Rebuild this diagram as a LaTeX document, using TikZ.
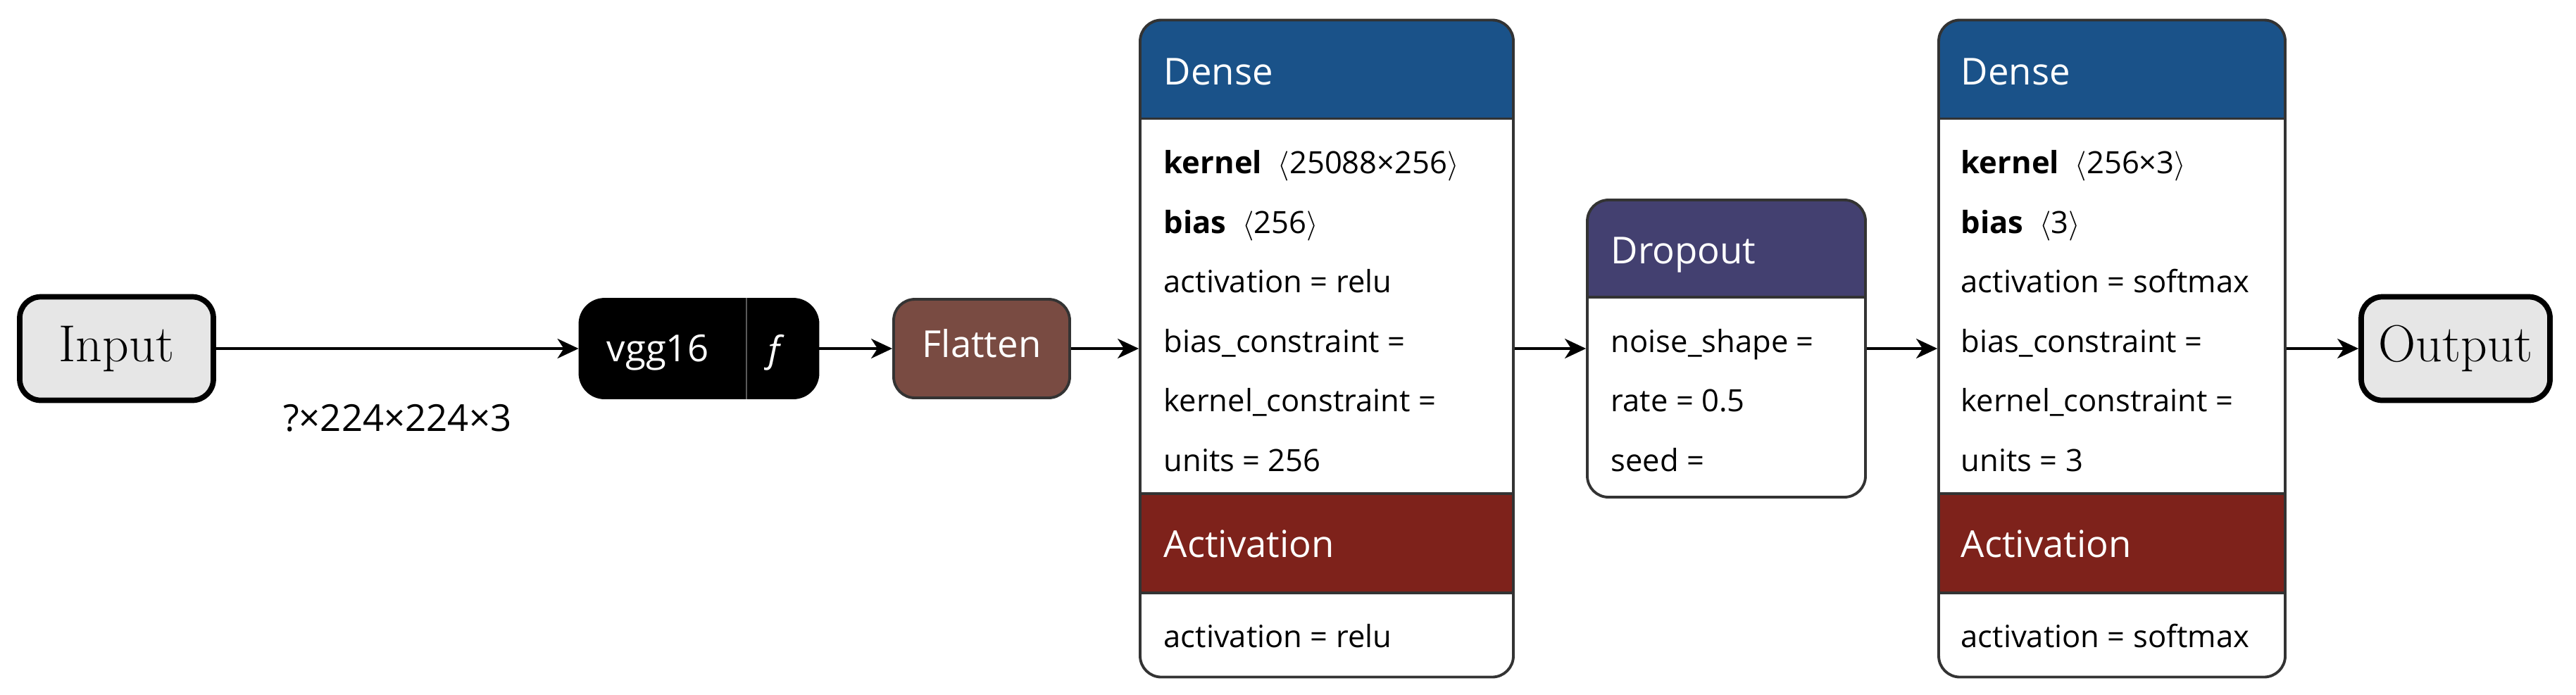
\documentclass[tikz,border=0pt]{standalone}
\usepackage{fontspec}
\usepackage{tikz}
\usetikzlibrary{arrows.meta}
\newfontfamily\netron{Open Sans}
\definecolor{densehead}{HTML}{1A5289}
\definecolor{acthead}{HTML}{7E221B}
\definecolor{drophead}{HTML}{434070}
\definecolor{flattenfill}{HTML}{794B42}
\definecolor{iofill}{HTML}{E6E6E6}
\definecolor{boxline}{HTML}{333333}

\begin{document}
\begin{tikzpicture}[
    io/.style={draw=black, line width=2.2pt, fill=iofill, rounded corners=0.3cm,
      minimum height=1.47cm, font=\fontsize{21}{24}\selectfont},
    layer/.style={draw=boxline, line width=1.1pt, fill=white, rounded corners=0.3cm},
    sepline/.style={draw=boxline, line width=1.1pt, sharp corners},
    denseblock/.style={layer, minimum height=9.33cm, path picture={
        \fill[densehead, sharp corners] (path picture bounding box.north west) rectangle ([yshift=-1.40cm]path picture bounding box.north east);
        \fill[acthead, sharp corners] ([yshift=-6.725cm]path picture bounding box.north west) rectangle ([yshift=-8.135cm]path picture bounding box.north east);
        \foreach \d in {1.40,6.725,8.135}
          \draw[sepline] ([yshift=-\d cm]path picture bounding box.north west) -- ([yshift=-\d cm]path picture bounding box.north east);
      }},
    dropblock/.style={layer, minimum height=4.22cm, path picture={
        \fill[drophead, sharp corners] (path picture bounding box.north west) rectangle ([yshift=-1.38cm]path picture bounding box.north east);
        \draw[sepline] ([yshift=-1.38cm]path picture bounding box.north west) -- ([yshift=-1.38cm]path picture bounding box.north east);
      }},
    title/.style={text=white, anchor=west, inner sep=0pt, text height=0.72em, text depth=0.22em,
      font=\netron\fontsize{15}{18}\selectfont},
    param/.style={anchor=west, inner sep=0pt, text height=0.72em, text depth=0.22em,
      font=\netron\fontsize{12.4}{14}\selectfont},
    edgelabel/.style={inner sep=0pt, font=\netron\fontsize{15}{18}\selectfont, below=0.78cm},
    link/.style={line width=1pt, -{Stealth[length=0.30cm, width=0.28cm, inset=0.09cm]}}
  ]
  \useasboundingbox (0,0) rectangle (36.58,-9.86);

  % input, backbone, flatten
  \node[io, minimum width=2.75cm] (input) at (1.655,-4.95) {Input};
  \node[layer, draw=black, fill=black, rounded corners=0.35cm, minimum width=3.38cm, minimum height=1.40cm] (vgg) at (9.925,-4.95) {};
  \coordinate (vggcut) at (10.60,-4.95);
  \draw[gray!70!black, line width=0.6pt] (vgg.north -| vggcut) -- (vgg.south -| vggcut);
  \node[title, anchor=center] (vggname) at (9.34,-5.05) {vgg16};
  \node[title, anchor=center] (vggfn) at (11.0,-5.05) {\itshape ƒ};
  \node[layer, fill=flattenfill, minimum width=2.50cm, minimum height=1.40cm, title, text depth=0em, anchor=center] (flatten) at (13.94,-4.95) {Flatten};

  % first dense
  \node[denseblock, minimum width=5.30cm] (dense1) at (18.84,-4.95) {};
  \path
  (16.52,-1.12) node[title] (dense1head) {Dense}
  (16.52,-2.38) node[param] (dense1kernel) {\textbf{kernel}~~$\langle$25088×256$\rangle$}
  (16.52,-3.23) node[param] (dense1bias) {\textbf{bias}~~$\langle$256$\rangle$}
  (16.52,-4.07) node[param] (dense1act) {activation = relu}
  (16.52,-4.92) node[param] (dense1bc) {bias\_constraint =}
  (16.52,-5.76) node[param] (dense1kc) {kernel\_constraint =}
  (16.52,-6.61) node[param] (dense1units) {units = 256}
  (16.52,-7.83) node[title] (act1head) {Activation}
  (16.52,-9.11) node[param] (act1act) {activation = relu}
  ;

  % dropout
  \node[dropblock, minimum width=3.95cm] (dropout) at (24.515,-4.95) {};
  \path
  (22.87,-3.66) node[title] (drophead) {Dropout}
  (22.87,-4.92) node[param] (dropnoise) {noise\_shape =}
  (22.87,-5.76) node[param] (droprate) {rate = 0.5}
  (22.87,-6.61) node[param] (dropseed) {seed =}
  ;

  % second dense
  \node[denseblock, minimum width=4.92cm] (dense2) at (29.99,-4.95) {};
  \path
  (27.84,-1.12) node[title] (dense2head) {Dense}
  (27.84,-2.38) node[param] (dense2kernel) {\textbf{kernel}~~$\langle$256×3$\rangle$}
  (27.84,-3.23) node[param] (dense2bias) {\textbf{bias}~~$\langle$3$\rangle$}
  (27.84,-4.07) node[param] (dense2act) {activation = softmax}
  (27.84,-4.92) node[param] (dense2bc) {bias\_constraint =}
  (27.84,-5.76) node[param] (dense2kc) {kernel\_constraint =}
  (27.84,-6.61) node[param] (dense2units) {units = 3}
  (27.84,-7.83) node[title] (act2head) {Activation}
  (27.84,-9.11) node[param] (act2act) {activation = softmax}
  ;

  \node[io, minimum width=2.68cm] (output) at (34.87,-4.95) {Output};

  \draw[link] (input) -- node[edgelabel] (shape) {?×224×224×3} (vgg);
  \draw[link] (vgg) -- (flatten);
  \draw[link] (flatten) -- (dense1);
  \draw[link] (dense1) -- (dropout);
  \draw[link] (dropout) -- (dense2);
  \draw[link] (dense2) -- (output);
\end{tikzpicture}
\end{document}
